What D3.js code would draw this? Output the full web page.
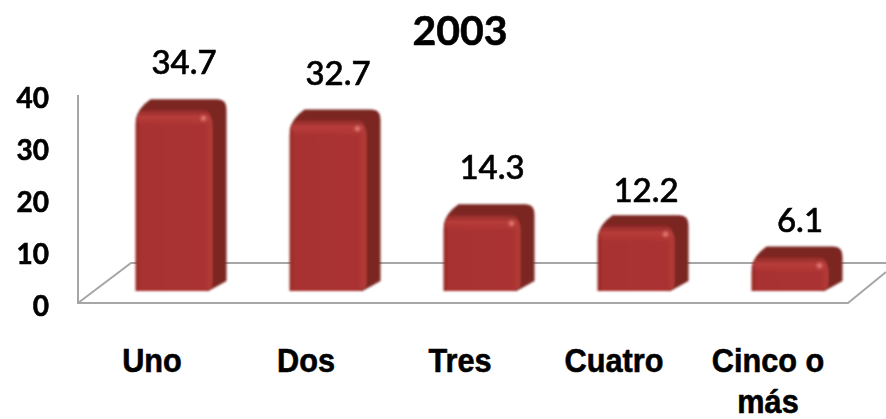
<!DOCTYPE html>
<html>
<head>
<meta charset="utf-8">
<script src="https://cdn.jsdelivr.net/npm/d3@7"></script>
<style>
  html, body { margin: 0; background: #fff; }
  text { fill: #000; }
</style>
</head>
<body>
<div id="chart"></div>
<script>
// Data
const categories = ["Uno", "Dos", "Tres", "Cuatro", "Cinco o más"];
const values = [34.7, 32.7, 14.3, 12.2, 6.1];
const yTicks = [0, 10, 20, 30, 40];
const chartTitle = "2003";

// the value labels were placed by hand in the original
const labelLift = [37, 37, 37, 25, 27];

const width = 886, height = 419;
const floor = {left: 78, right: 848, front: 303, back: 263, depthX: 53};
const barDepth = {x: 14, y: 13};

const xScale = d3.scaleBand()
    .domain(categories)
    .range([floor.left, floor.right])
    .paddingInner(0.5)
    .paddingOuter(0.25);

// bars stand on the middle of the floor, labels stay on the front edge
const barShift = 19;
const barBase = 291;
const yScale = d3.scaleLinear().domain([0, 40]).range([barBase, barBase - 206]);
const tickScale = d3.scaleLinear().domain([0, 40]).range([306, 98]);

const svg = d3.select("#chart").append("svg")
    .attr("width", width)
    .attr("height", height)
    .style("display", "block");

const defs = svg.append("defs");

const frontGrad = defs.append("linearGradient").attr("id", "frontGrad");
frontGrad.append("stop").attr("offset", "0%").attr("stop-color", "#972827");
frontGrad.append("stop").attr("offset", "7%").attr("stop-color", "#a83130");
frontGrad.append("stop").attr("offset", "90%").attr("stop-color", "#aa3331");
frontGrad.append("stop").attr("offset", "100%").attr("stop-color", "#b53c3a");

const topGrad = defs.append("linearGradient").attr("id", "topGrad")
    .attr("x1", 0).attr("x2", 0).attr("y1", 0).attr("y2", 1);
topGrad.append("stop").attr("offset", "0%").attr("stop-color", "#8a2826");
topGrad.append("stop").attr("offset", "45%").attr("stop-color", "#b83c3a");
topGrad.append("stop").attr("offset", "100%").attr("stop-color", "#b83c3a").attr("stop-opacity", 0);

const glow = defs.append("radialGradient").attr("id", "glow");
glow.append("stop").attr("offset", "0%").attr("stop-color", "#f5968a");
glow.append("stop").attr("offset", "100%").attr("stop-color", "#c04a48").attr("stop-opacity", 0);

defs.append("filter").attr("id", "soft")
    .append("feGaussianBlur").attr("stdDeviation", 0.8);

// Floor and wall lines
const grid = svg.append("g")
    .attr("fill", "none")
    .attr("stroke", "#a6a6a6")
    .attr("stroke-width", 2);

grid.append("path")
    .attr("d", `M${floor.left},${tickScale(40) - 3}V${floor.front}H${floor.right}L${width},${floor.front - 31}`);
grid.append("path")
    .attr("d", `M${floor.left},${floor.front}L${floor.left + floor.depthX},${floor.back}H${width}`);

// Bars
const bars = svg.append("g")
    .attr("filter", "url(#soft)")
    .selectAll("g")
    .data(categories)
    .join("g")
    .attr("transform", d => `translate(${xScale(d) + barShift},0)`);

const barW = xScale.bandwidth();
const valueOf = d => values[categories.indexOf(d)];
const r = 15;

// side and top, darker faces behind the front
bars.append("path")
    .attr("fill", "#7c2522")
    .attr("d", d => {
        const t = yScale(valueOf(d));
        return `M${r},${t - barDepth.y}H${barW + barDepth.x - 9}
            Q${barW + barDepth.x},${t - barDepth.y} ${barW + barDepth.x},${t - barDepth.y + 10}
            V${barBase - barDepth.y + 3}L${barW - 4},${barBase}H${barW - 10}V${t + 8}H0
            Q2,${t - 4} ${r},${t - barDepth.y}Z`;
    });

// front face with rounded top corners
bars.append("path")
    .attr("fill", "url(#frontGrad)")
    .attr("d", d => {
        const t = yScale(valueOf(d)) - 2;
        return `M0,${barBase}V${t + r}Q0,${t} ${r},${t}H${barW - r}
            Q${barW},${t} ${barW},${t + r}V${barBase - 8}Q${barW},${barBase} ${barW - 10},${barBase}Z`;
    });

// bevel along the top edge of the front
bars.append("rect")
    .attr("x", 2)
    .attr("y", d => yScale(valueOf(d)) - 3)
    .attr("width", barW - 4)
    .attr("height", 17)
    .attr("rx", 8)
    .attr("fill", "url(#topGrad)");

// highlight near the top right corner
bars.append("circle")
    .attr("cx", barW - 9)
    .attr("cy", d => yScale(valueOf(d)) + 6)
    .attr("r", 5)
    .attr("fill", "url(#glow)");

// Y tick labels
svg.append("g")
    .selectAll("text")
    .data(yTicks)
    .join("text")
    .attr("x", 49)
    .attr("y", d => tickScale(d))
    .attr("dy", "0.36em")
    .attr("text-anchor", "end")
    .attr("font-family", "Lato, sans-serif")
    .attr("font-size", 28)
    .attr("font-weight", 700)
    .attr("stroke", "#000")
    .attr("stroke-width", 0.6)
    .text(d => d);

// Value labels
svg.append("g")
    .selectAll("text")
    .data(categories)
    .join("text")
    .attr("x", d => xScale(d) + barW / 2 + barShift + 10)
    .attr("y", (d, i) => yScale(valueOf(d)) - barDepth.y - labelLift[i] + 12)
    .attr("text-anchor", "middle")
    .attr("font-family", "Lato, sans-serif")
    .attr("font-size", 33)
    .attr("font-weight", 500)
    .attr("stroke", "#000")
    .attr("stroke-width", 0.6)
    .text(d => valueOf(d).toFixed(1));

// Category labels, wrapped like the original
const catLabels = svg.append("g")
    .selectAll("text")
    .data(categories)
    .join("text")
    .attr("text-anchor", "middle")
    .attr("font-family", "Liberation Sans, Arial, sans-serif")
    .attr("font-size", 33)
    .attr("font-weight", 700)
    .attr("stroke", "#000")
    .attr("stroke-width", 0.6)
    .attr("transform", d => `translate(${xScale(d) + barW / 2 - 3},372)scale(0.93,1)`);

catLabels.each(function(d) {
    const lines = d === "Cinco o más" ? ["Cinco o", "más"] : [d];
    d3.select(this).selectAll("tspan")
        .data(lines)
        .join("tspan")
        .attr("x", 0)
        .attr("y", (l, i) => i * 41)
        .text(l => l);
});

// Title
svg.append("text")
    .attr("x", 460)
    .attr("y", 45)
    .attr("text-anchor", "middle")
    .attr("font-family", "Lato, sans-serif")
    .attr("font-size", 41)
    .attr("font-weight", 700)
    .attr("stroke", "#000")
    .attr("stroke-width", 0.6)
    .text(chartTitle);
</script>
</body>
</html>
